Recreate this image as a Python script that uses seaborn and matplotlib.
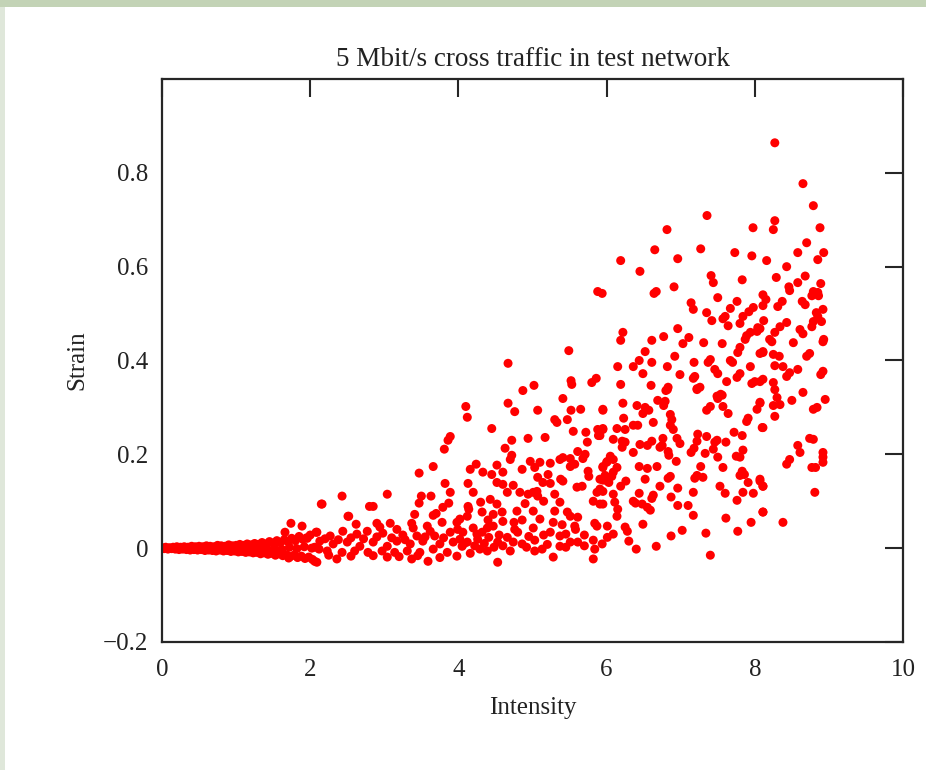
import matplotlib
matplotlib.use("Agg")
import matplotlib.pyplot as plt
from matplotlib.patches import Rectangle
import pandas as pd
import seaborn as sns

# ---- measurements: (intensity, strain) ----
# near-zero band at low intensity
band_upper = [(0.00, 0.001), (0.05, 0.002), (0.10, 0.001), (0.15, 0.002), (0.20, 0.003),
              (0.25, 0.002), (0.30, 0.003), (0.35, 0.002), (0.40, 0.004), (0.45, 0.003),
              (0.50, 0.004), (0.55, 0.003), (0.60, 0.005), (0.65, 0.004), (0.70, 0.003),
              (0.75, 0.006), (0.80, 0.005), (0.85, 0.004), (0.90, 0.007), (0.95, 0.005),
              (1.00, 0.006), (1.05, 0.008), (1.10, 0.006), (1.15, 0.009), (1.20, 0.007),
              (1.25, 0.010), (1.30, 0.008), (1.35, 0.012), (1.40, 0.009), (1.45, 0.014),
              (1.50, 0.011), (1.55, 0.016), (1.60, 0.012), (1.65, 0.018), (1.70, 0.014),
              (1.75, 0.021), (1.80, 0.016), (1.85, 0.025), (1.90, 0.019), (1.95, 0.022),
              (2.00, 0.028)]
band_lower = [(0.03, -0.001), (0.08, -0.002), (0.13, -0.001), (0.18, -0.002), (0.23, -0.003),
              (0.28, -0.002), (0.33, -0.003), (0.38, -0.004), (0.43, -0.003), (0.48, -0.004),
              (0.53, -0.003), (0.58, -0.005), (0.63, -0.004), (0.68, -0.005), (0.73, -0.006),
              (0.78, -0.004), (0.83, -0.006), (0.88, -0.005), (0.93, -0.007), (0.98, -0.006),
              (1.03, -0.008), (1.08, -0.007), (1.13, -0.009), (1.18, -0.008), (1.23, -0.010),
              (1.28, -0.009), (1.33, -0.012), (1.38, -0.010), (1.43, -0.013), (1.48, -0.011),
              (1.53, -0.015), (1.58, -0.012), (1.63, -0.016), (1.68, -0.014), (1.73, -0.018),
              (1.78, -0.015), (1.83, -0.020), (1.88, -0.017), (1.93, -0.022), (1.98, -0.019),
              (2.03, -0.024)]
band_mid = [(1.02, 0.000), (1.12, 0.001), (1.22, -0.001), (1.32, 0.002), (1.42, -0.002),
            (1.52, 0.001), (1.62, -0.003), (1.72, 0.002), (1.82, -0.001), (1.92, 0.003),
            (2.02, 0.000), (2.12, -0.002)]

# intensity 1.6 - 4
rise = [(1.74, 0.053), (1.89, 0.047), (1.66, 0.034), (2.08, 0.034), (2.15, 0.094),
        (1.96, 0.021), (1.71, -0.021), (2.06, -0.028), (2.51, 0.068),
        (3.89, 0.238), (3.86, 0.230), (3.81, 0.211), (3.66, 0.174), (3.47, 0.160),
        (3.82, 0.138), (3.89, 0.119), (3.63, 0.111), (3.50, 0.111), (3.47, 0.096),
        (3.87, 0.096), (3.79, 0.087), (3.70, 0.074), (3.66, 0.070), (3.41, 0.072),
        (3.04, 0.115), (2.85, 0.089), (2.80, 0.089), (2.43, 0.111), (2.16, 0.094),
        (2.52, 0.068), (2.62, 0.051), (2.90, 0.053), (3.08, 0.053), (3.37, 0.053),
        (3.58, 0.047), (3.78, 0.055), (3.98, 0.055),
        (2.09, 0.034), (2.27, 0.026), (2.44, 0.036), (2.63, 0.030), (2.77, 0.036),
        (2.94, 0.045), (2.98, 0.032), (3.17, 0.040), (3.25, 0.028), (3.39, 0.043),
        (3.44, 0.026), (3.62, 0.036), (3.68, 0.026), (3.89, 0.034), (3.99, 0.040),
        (2.13, 0.015), (2.31, 0.009), (2.50, 0.013), (2.67, 0.004), (2.85, 0.013),
        (3.04, 0.004), (3.17, 0.015), (3.35, 0.009), (3.52, 0.015), (3.75, 0.009),
        (3.93, 0.013),
        (2.06, 0.002), (2.23, -0.006), (2.43, -0.009), (2.60, -0.006), (2.78, -0.009),
        (2.97, -0.006), (3.14, -0.009), (3.31, -0.006), (3.48, -0.009), (3.66, -0.002),
        (3.85, -0.009),
        (2.09, -0.030), (2.36, -0.023), (3.04, -0.019), (3.37, -0.023), (3.59, -0.028),
        (3.98, -0.017),
        (2.20, 0.020), (2.38, 0.018), (2.55, 0.022), (2.72, 0.020), (2.90, 0.024),
        (3.10, 0.022), (3.28, 0.018), (3.55, 0.024), (3.80, 0.022), (2.25, -0.015),
        (2.55, -0.017), (2.85, -0.016), (3.20, -0.018), (3.45, -0.016), (3.75, -0.020)]

# intensity 4 - 6
middle = [(5.49, 0.421), (4.67, 0.394), (5.52, 0.357), (5.53, 0.349), (5.80, 0.353),
          (5.86, 0.362), (4.87, 0.336), (5.02, 0.347), (4.10, 0.302), (4.12, 0.279),
          (4.67, 0.309), (4.76, 0.291), (5.07, 0.294), (5.41, 0.319), (5.52, 0.294),
          (5.65, 0.296), (5.95, 0.296), (5.30, 0.274), (5.33, 0.268), (5.47, 0.274),
          (4.45, 0.255), (4.72, 0.230), (4.94, 0.234), (5.17, 0.236), (5.55, 0.249),
          (5.72, 0.247), (5.74, 0.226), (5.88, 0.253), (5.95, 0.255), (5.89, 0.240),
          (4.63, 0.213), (4.72, 0.198), (4.70, 0.189), (4.97, 0.185), (5.10, 0.183),
          (5.24, 0.181), (5.37, 0.189), (5.41, 0.193), (5.51, 0.191), (5.61, 0.206),
          (5.71, 0.200), (5.68, 0.191), (5.57, 0.179), (4.24, 0.179), (4.16, 0.168),
          (4.33, 0.162), (4.52, 0.177), (4.60, 0.162), (4.45, 0.157), (4.86, 0.168),
          (5.03, 0.172), (5.07, 0.151), (5.21, 0.157), (5.38, 0.147), (5.41, 0.143),
          (5.14, 0.140), (5.24, 0.138), (5.51, 0.174), (5.75, 0.164), (5.76, 0.153),
          (5.95, 0.174), (6.01, 0.185), (5.91, 0.147), (6.01, 0.143),
          (4.52, 0.140), (4.60, 0.136), (4.74, 0.134), (4.66, 0.119), (4.83, 0.119),
          (4.94, 0.115), (5.01, 0.119), (5.06, 0.121), (5.07, 0.111), (4.13, 0.138),
          (4.20, 0.119), (5.67, 0.132), (5.60, 0.130), (5.87, 0.119), (5.95, 0.121),
          (4.43, 0.104), (5.30, 0.115), (5.37, 0.098), (5.82, 0.100), (5.91, 0.094),
          (4.13, 0.089), (4.14, 0.083), (4.52, 0.094), (4.59, 0.077), (4.32, 0.077),
          (4.47, 0.072), (4.79, 0.079), (5.01, 0.079), (5.30, 0.079), (5.47, 0.077),
          (5.51, 0.068), (5.61, 0.066), (4.02, 0.062), (4.12, 0.068), (4.60, 0.057),
          (4.86, 0.060), (5.28, 0.055), (5.57, 0.047), (5.58, 0.040), (5.84, 0.053),
          (5.87, 0.047), (6.01, 0.047),
          (4.20, 0.043), (4.32, 0.034), (4.39, 0.043), (4.47, 0.047), (4.76, 0.040),
          (4.80, 0.034), (5.01, 0.043), (5.24, 0.034), (5.37, 0.026), (4.06, 0.034),
          (4.02, 0.019), (4.12, 0.013), (4.26, 0.019), (4.41, 0.023), (4.53, 0.013),
          (4.66, 0.023), (4.74, 0.013), (4.86, 0.009), (5.03, 0.017), (5.13, -0.002),
          (5.03, -0.006), (5.51, 0.013), (5.61, 0.013), (5.82, 0.017), (5.84, -0.002),
          (6.01, 0.023), (4.29, -0.002), (4.39, -0.006), (4.53, -0.030), (4.70, -0.006),
          (5.28, -0.019), (5.37, 0.004), (5.82, -0.023), (4.05, 0.004), (4.16, -0.011),
          (4.08, 0.010), (4.22, 0.005), (4.35, 0.010), (4.48, 0.002), (4.60, 0.005),
          (4.92, 0.002), (5.20, 0.008), (5.45, 0.002), (5.70, 0.005), (4.25, 0.030),
          (4.55, 0.028), (4.95, 0.025), (5.15, 0.028), (5.45, 0.030), (5.70, 0.028),
          (4.40, 0.060), (4.75, 0.055), (5.10, 0.062), (5.40, 0.050), (4.90, 0.095),
          (5.15, 0.100), (4.30, 0.098)]

# intensity 6 - 8, upper part
upper = [(6.815, 0.679), (7.355, 0.709), (7.976, 0.683),
         (6.65, 0.636), (6.19, 0.613), (6.45, 0.590), (6.96, 0.617), (7.27, 0.638),
         (7.73, 0.630), (7.96, 0.623), (7.41, 0.581), (7.44, 0.566), (7.83, 0.572),
         (5.94, 0.543), (5.88, 0.547), (6.67, 0.547), (6.64, 0.543), (6.91, 0.557),
         (7.50, 0.534), (7.76, 0.526), (7.14, 0.523), (7.17, 0.509), (7.35, 0.502),
         (7.42, 0.485), (7.67, 0.511), (7.60, 0.494), (7.57, 0.489), (7.84, 0.494),
         (7.92, 0.504), (7.98, 0.513), (7.64, 0.474), (7.80, 0.479), (8.04, 0.470),
         (8.03, 0.462), (6.96, 0.468), (6.22, 0.460), (6.19, 0.443), (7.11, 0.449),
         (6.77, 0.451), (6.61, 0.443), (7.03, 0.436), (7.31, 0.438), (7.56, 0.436),
         (7.89, 0.453), (7.94, 0.460), (7.87, 0.445), (7.80, 0.428), (7.77, 0.417),
         (8.11, 0.419), (8.07, 0.415), (6.52, 0.419), (6.44, 0.400), (6.92, 0.409),
         (7.40, 0.402), (7.37, 0.396), (7.67, 0.400), (7.70, 0.396), (6.15, 0.387),
         (6.36, 0.387), (6.61, 0.396), (6.82, 0.387), (7.18, 0.396), (6.49, 0.372),
         (6.99, 0.370), (7.19, 0.366), (7.17, 0.362), (7.46, 0.381), (7.50, 0.372),
         (7.94, 0.387), (7.80, 0.372), (7.76, 0.364), (7.62, 0.355), (6.19, 0.349),
         (6.60, 0.347), (6.83, 0.343), (6.80, 0.336), (7.22, 0.340), (7.26, 0.343),
         (7.54, 0.328), (7.49, 0.324), (7.96, 0.351), (8.00, 0.355), (8.11, 0.360)]

# intensity 6 - 8, lower part
lower = [(5.95, 0.294), (6.22, 0.309), (6.41, 0.304), (6.52, 0.300), (6.57, 0.294),
         (6.49, 0.287), (6.69, 0.315), (6.79, 0.313), (6.77, 0.304), (6.82, 0.338),
         (7.22, 0.338), (7.56, 0.326), (7.50, 0.319), (7.35, 0.294), (7.40, 0.302),
         (7.57, 0.302), (7.64, 0.287), (8.07, 0.309), (8.03, 0.296), (7.91, 0.277),
         (7.89, 0.270), (6.23, 0.277), (6.86, 0.285), (6.88, 0.274), (6.63, 0.268),
         (6.36, 0.262), (6.42, 0.262), (5.95, 0.253), (6.14, 0.255), (6.25, 0.253),
         (6.86, 0.262), (6.90, 0.253), (8.10, 0.257), (5.91, 0.240), (6.09, 0.232),
         (6.21, 0.228), (6.25, 0.226), (6.61, 0.228), (6.45, 0.221), (6.55, 0.219),
         (6.76, 0.234), (6.75, 0.219), (6.95, 0.234), (6.99, 0.223), (7.23, 0.243),
         (7.22, 0.228), (7.35, 0.238), (7.49, 0.230), (7.46, 0.226), (7.61, 0.226),
         (7.72, 0.247), (7.83, 0.240), (6.21, 0.215), (6.36, 0.204), (6.72, 0.215),
         (6.83, 0.206), (6.84, 0.198), (7.18, 0.213), (7.14, 0.204), (7.33, 0.202),
         (7.44, 0.211), (7.84, 0.209), (7.80, 0.194), (7.75, 0.196), (6.05, 0.196),
         (6.09, 0.189), (6.00, 0.183), (6.94, 0.185), (7.50, 0.194), (5.95, 0.172),
         (6.14, 0.172), (6.44, 0.174), (6.55, 0.170), (6.68, 0.174), (7.27, 0.174),
         (7.57, 0.172), (7.83, 0.164), (7.86, 0.157), (5.98, 0.155), (6.07, 0.153),
         (6.09, 0.162), (7.22, 0.155), (7.19, 0.149), (7.30, 0.151), (6.86, 0.153),
         (6.83, 0.149), (7.80, 0.155), (6.52, 0.147), (5.95, 0.145), (6.03, 0.140),
         (6.26, 0.143), (7.91, 0.140), (8.07, 0.143), (8.11, 0.132), (6.19, 0.132),
         (6.72, 0.132), (6.96, 0.128), (7.53, 0.132), (5.91, 0.126), (6.09, 0.115),
         (6.44, 0.117), (6.63, 0.113), (6.61, 0.106), (7.17, 0.119), (7.60, 0.117),
         (7.84, 0.119), (7.98, 0.117), (6.87, 0.109), (6.36, 0.100), (6.39, 0.096),
         (7.76, 0.102), (5.95, 0.094), (6.11, 0.098), (6.48, 0.094), (6.96, 0.091),
         (7.10, 0.091), (6.55, 0.087), (6.59, 0.081), (6.15, 0.083), (6.14, 0.068),
         (7.17, 0.070), (8.11, 0.077), (7.61, 0.064), (6.49, 0.051), (6.25, 0.045),
         (6.28, 0.036), (7.95, 0.055), (7.02, 0.038), (6.09, 0.030), (6.87, 0.026),
         (7.34, 0.032), (7.77, 0.036), (6.30, 0.015), (6.67, 0.004), (6.40, -0.002),
         (7.40, -0.015), (5.94, 0.009)]

# intensity above 8
high = [(8.27, 0.864), (8.65, 0.777), (8.79, 0.730), (8.88, 0.683), (8.27, 0.698),
        (8.25, 0.679), (8.70, 0.651), (8.16, 0.613), (8.58, 0.630), (8.93, 0.630),
        (8.85, 0.615), (8.43, 0.600), (8.29, 0.577), (8.68, 0.580), (8.58, 0.566),
        (8.89, 0.564), (8.46, 0.557), (8.47, 0.549), (8.11, 0.540), (8.85, 0.545),
        (8.79, 0.547), (8.77, 0.538), (8.86, 0.538), (8.15, 0.530), (8.37, 0.526),
        (8.64, 0.526), (8.68, 0.519), (8.31, 0.515), (8.11, 0.517), (8.92, 0.509),
        (8.83, 0.502), (8.85, 0.494), (8.90, 0.483), (8.79, 0.483), (8.12, 0.485),
        (8.43, 0.481), (8.34, 0.472), (8.77, 0.472), (8.61, 0.466), (8.65, 0.457),
        (8.27, 0.460), (8.20, 0.445), (8.52, 0.438), (8.93, 0.445), (8.07, 0.468),
        (8.23, 0.440), (8.92, 0.440), (8.11, 0.417), (8.25, 0.413), (8.33, 0.409),
        (8.74, 0.415), (8.70, 0.409), (8.27, 0.389), (8.38, 0.387), (8.47, 0.374),
        (8.43, 0.366), (8.58, 0.381), (8.92, 0.377), (8.89, 0.370), (8.07, 0.355),
        (8.25, 0.353), (8.27, 0.338), (8.65, 0.332), (8.30, 0.321), (8.50, 0.315),
        (8.95, 0.317), (8.07, 0.311), (8.25, 0.304), (8.34, 0.306), (8.84, 0.300),
        (8.79, 0.296), (8.27, 0.281), (8.11, 0.257), (8.74, 0.234), (8.79, 0.232),
        (8.58, 0.219), (8.61, 0.204), (8.92, 0.204), (8.92, 0.194), (8.47, 0.189),
        (8.43, 0.179), (8.92, 0.183), (8.77, 0.172), (8.82, 0.172), (8.07, 0.147),
        (8.11, 0.132), (8.81, 0.119), (8.11, 0.077), (8.38, 0.055)]

x_ticks = [0, 2, 4, 6, 8, 10]
x_tick_labels = ["0", "2", "4", "6", "8", "10"]
y_ticks = [-0.2, 0.0, 0.2, 0.4, 0.6, 0.8]
y_tick_labels = ["\u22120.2", "0", "0.2", "0.4", "0.6", "0.8"]

points = band_upper + band_lower + band_mid + rise + middle + upper + lower + high
df = pd.DataFrame(points, columns=["Intensity", "Strain"])

sns.set_style("white")
plt.rcParams["font.family"] = ["Liberation Serif", "DejaVu Serif"]
plt.rcParams["axes.unicode_minus"] = True

W, H = 926, 770
fig = plt.figure(figsize=(W / 100, H / 100), dpi=100)
fig.patch.set_facecolor("white")

# page frame strips
fig.patches.append(Rectangle((0, 1 - 7 / H), 1, 7 / H, transform=fig.transFigure,
                             facecolor="#c3d3b6", edgecolor="none", zorder=0))
fig.patches.append(Rectangle((0, 0), 5 / W, 1 - 7 / H, transform=fig.transFigure,
                             facecolor="#dfe7da", edgecolor="none", zorder=0))

ax = fig.add_axes([162 / W, 128 / H, 741 / W, 563 / H])
sns.scatterplot(data=df, x="Intensity", y="Strain", ax=ax, color="#ff0000",
                s=42, edgecolor="none", linewidth=0, legend=False)

ax.set_xlim(0, 10)
ax.set_ylim(-0.2, 1.0)
ax.set_xticks(x_ticks)
ax.set_xticklabels(x_tick_labels)
ax.set_yticks(y_ticks)
ax.set_yticklabels(y_tick_labels)

ink = "#262626"
for sp in ax.spines.values():
    sp.set_visible(True)
    sp.set_linewidth(1.6)
    sp.set_color(ink)
ax.tick_params(direction="in", length=13, width=1.5, top=True, right=True,
               color=ink, labelcolor="#222222", labelsize=18)
ax.tick_params(axis="x", pad=12)
ax.tick_params(axis="y", pad=10)

ax.set_title("5 Mbit/s cross traffic in test network", fontsize=19.5,
             color="#222222", pad=9)
ax.set_xlabel("Intensity", fontsize=18, color="#222222")
ax.set_ylabel("Strain", fontsize=18, color="#222222")
ax.xaxis.set_label_coords(0.5, -0.097)
ax.yaxis.set_label_coords(-0.1, 0.5)

fig.savefig("out.png", dpi=100, facecolor="white")
